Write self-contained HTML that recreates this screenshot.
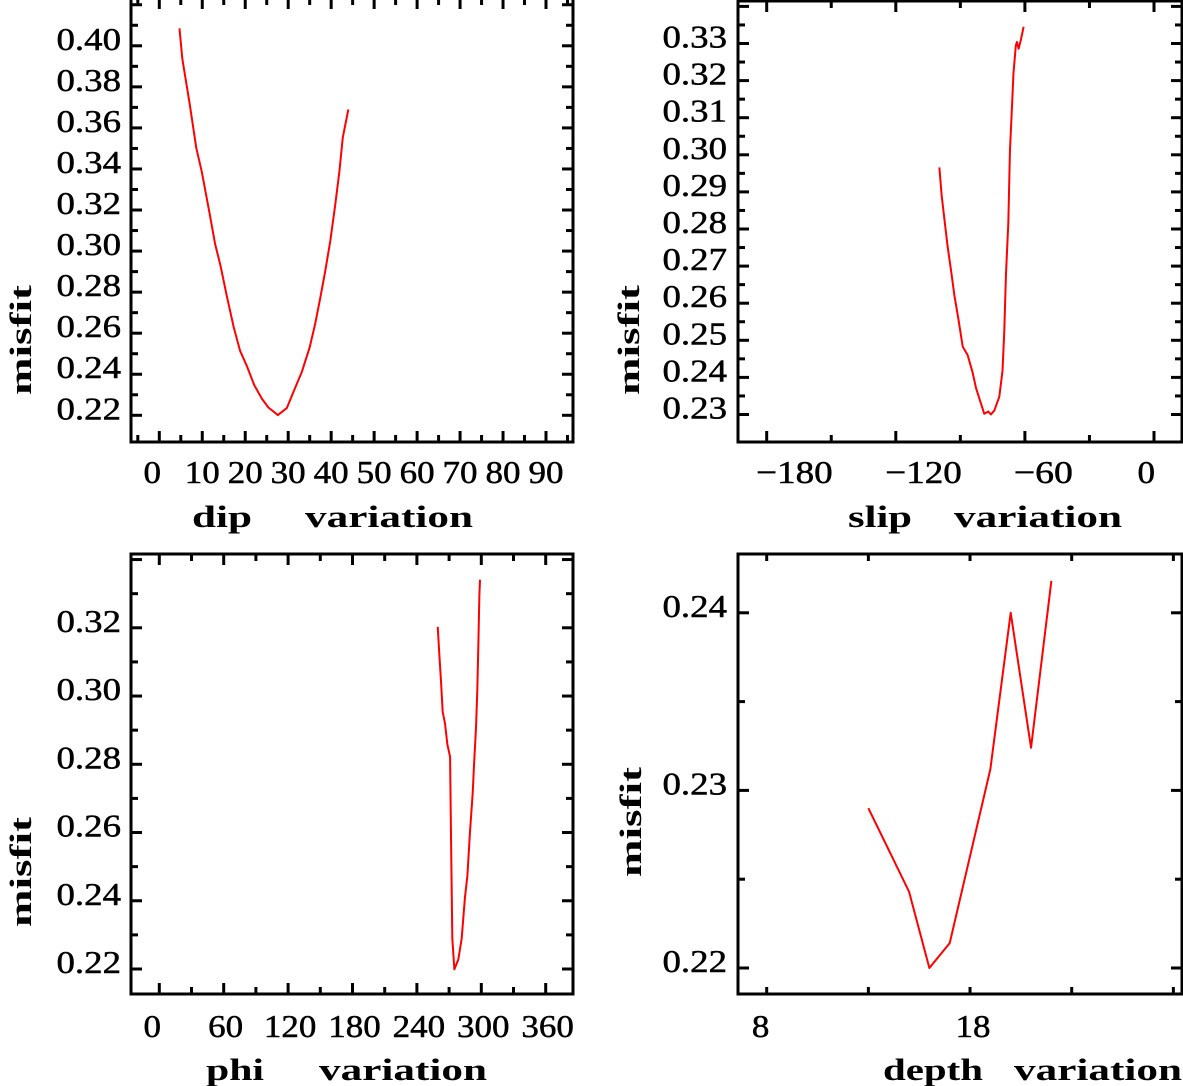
<!DOCTYPE html>
<html><head><meta charset="utf-8"><style>
html,body{margin:0;padding:0;background:#fff;}
svg{display:block;}
text{font-family:"Liberation Serif",serif;fill:#000;}
</style></head>
<body>
<svg id="chart" width="1183" height="1086" viewBox="0 0 1183 1086"></svg>
<script>
// ---- data ----
const dipX = [4.7,5.35,7.05,8.6,9.9,11.7,13.0,14.2,15.7,17.3,18.8,20.4,22.1,23.9,25.4,27.6,29.7,31.2,33.2,35.0,36.3,37.4,38.6,39.8,40.9,41.9,42.7,44.0];
const dipY = [0.4085,0.3938,0.372,0.3503,0.3385,0.3184,0.3033,0.2933,0.2782,0.2631,0.2514,0.2439,0.2347,0.2280,0.2238,0.2201,0.2236,0.2313,0.2413,0.2531,0.2648,0.2765,0.2900,0.3050,0.3218,0.3385,0.3553,0.3690];
const slipX = [-99.75,-98.7,-97.4,-95.9,-94.3,-92.8,-90.9,-88.9,-86.6,-84.3,-82.7,-80.4,-78.9,-77.0,-75.8,-74.2,-71.9,-70.4,-69.6,-68.8,-67.7,-66.95,-66.2,-65.3,-64.2,-63.7,-62.9,-61.9,-60.6];
const slipY = [0.2966,0.2891,0.2826,0.2752,0.2687,0.2622,0.2557,0.2483,0.2460,0.2413,0.2371,0.2329,0.2302,0.2308,0.2300,0.2311,0.2348,0.2418,0.2522,0.2678,0.2817,0.3012,0.3105,0.3221,0.3295,0.3304,0.3286,0.3309,0.3345];
const phiX = [259.4,260.9,262.5,264.0,266.2,268.4,270.9,271.8,273.0,274.9,278.6,281.7,284.8,287.0,289.5,292.0,293.2,295.1,296.3,297.2,298.2,298.8];
const phiY = [0.3203,0.3122,0.3041,0.2954,0.2919,0.2858,0.2822,0.2584,0.2289,0.2199,0.2228,0.2289,0.2411,0.2472,0.2604,0.2716,0.2797,0.2909,0.3020,0.3142,0.3295,0.3341];
const depthX = [13,15,16,17,19,20,21,22];
const depthY = [0.2290,0.2243,0.2200,0.2214,0.2312,0.2400,0.2324,0.2418];
// tick labels
const dipXLabels = [0,10,20,30,40,50,60,70,80,90];
const dipYLabels = ["0.40","0.38","0.36","0.34","0.32","0.30","0.28","0.26","0.24","0.22"];
const slipXLabels = [-180,-120,-60,0];
const slipYLabels = ["0.33","0.32","0.31","0.30","0.29","0.28","0.27","0.26","0.25","0.24","0.23"];
const phiXLabels = [0,60,120,180,240,300,360];
const phiYLabels = ["0.32","0.30","0.28","0.26","0.24","0.22"];
const depthXLabels = [8,18];
const depthYLabels = ["0.24","0.23","0.22"];

const NS="http://www.w3.org/2000/svg";
const svg=document.getElementById('chart');
function el(tag,attrs,parent){const e=document.createElementNS(NS,tag);for(const k in attrs)e.setAttribute(k,attrs[k]);(parent||svg).appendChild(e);return e;}
function linear(d0,d1,r0,r1){return v=>r0+(v-d0)*(r1-r0)/(d1-d0);}

const panels=[
 {name:'dip',box:[131,573,-2,442],xs:linear(0,90,159.3,546),ys:linear(0.40,0.22,45.8,415.3),
  xt:{start:-5,end:95,step:5,major:10},yt:{start:0.22,end:0.42,step:0.01,major:0.02},
  X:dipX,Y:dipY,xl:dipXLabels,yl:dipYLabels,xlab:v=>[ 'middle', v===0?-7:0],
  title:[['dip',222,60],['variation',389,168]],titleY:527,tickY:483,misfit:[21,340],labRight:121,top:false},
 {name:'slip',box:[738,1182,1,442],xs:linear(-180,0,766.7,1154),ys:linear(0.33,0.23,43.5,414.5),
  xt:{start:-180,end:0,step:30,major:60},yt:{start:0.23,end:0.34,step:0.005,major:0.01},
  X:slipX,Y:slipY,xl:slipXLabels,yl:slipYLabels,xlab:v=>['end', v===0?1:(v>-90?48:66)],
  title:[['slip',880,64],['variation',1038,168]],titleY:527,tickY:483,misfit:[629,340],labRight:727,top:true},
 {name:'phi',box:[131,573,554,994],xs:linear(0,360,159.3,545.7),ys:linear(0.32,0.22,627.8,969),
  xt:{start:0,end:360,step:30,major:60},yt:{start:0.22,end:0.34,step:0.01,major:0.02},
  X:phiX,Y:phiY,xl:phiXLabels,yl:phiYLabels,xlab:v=>['middle', v===0?-7:2],
  title:[['phi',235,58],['variation',403,168]],titleY:1080,tickY:1037,misfit:[21,872],labRight:121,top:true},
 {name:'depth',box:[738,1182,554,994],xs:linear(8,23,766.7,1071.7),ys:linear(0.24,0.22,612.8,968),
  xt:{start:8,end:28,step:5,major:10},yt:{start:0.22,end:0.2433,step:0.005,major:0.01},
  X:depthX,Y:depthY,xl:depthXLabels,yl:depthYLabels,xlab:v=>['middle', v===8?-6:3],
  title:[['depth',933,100],['variation',1098,168]],titleY:1080,tickY:1037,misfit:[631,822],labRight:727,top:true}
];

function near(a,b){return Math.abs(a-b)<1e-6;}
function tw(s){let w=0;for(const c of s){w+= c==='.'?12:(c==='\u2212'?24:17.5);}return w;}

panels.forEach(p=>{
  const g=el('g',{});
  
  
  const [L,R,T,B]=p.box;
  const frame=el('path',{d:`M${L} ${T} L${L} ${B} L${R} ${B} L${R} ${T} ${p.top?'Z':''}`,fill:'none',stroke:'#000','stroke-width':3},g);
  
  
  for(let v=p.xt.start;v<=p.xt.end+1e-9;v+=p.xt.step){
    const x=p.xs(v); if(x<=L+2||x>=R-2)continue;
    const mod=((v%p.xt.major)+p.xt.major)%p.xt.major;
    const m=near(mod,0)||near(mod,p.xt.major);
    const len=m?11:7;
    const t1=el('line',{x1:x,x2:x,y1:B,y2:B-len,stroke:'#000','stroke-width':3},g);
    
    
    const t2=el('line',{x1:x,x2:x,y1:T,y2:T+len,stroke:'#000','stroke-width':3},g);
    
    
  }
  for(let v=p.yt.start;v<=p.yt.end+1e-9;v+=p.yt.step){
    const y=p.ys(v); if(y<=T+2||y>=B-2)continue;
    const r=Math.round(v/p.yt.major*1000)/1000;
    const m=near(r,Math.round(r));
    const len=m?11:7;
    const t1=el('line',{x1:L,x2:L+len,y1:y,y2:y,stroke:'#000','stroke-width':3},g);
    
    
    const t2=el('line',{x1:R,x2:R-len,y1:y,y2:y,stroke:'#000','stroke-width':3},g);
    
    
  }
  p.xl.forEach(v=>{
    const s=v<0?'\u2212'+Math.abs(v):String(v);
    const [anc,off]=p.xlab(v);
    const t=el('text',{x:p.xs(v)+off,y:p.tickY,'font-size':32,'text-anchor':anc,textLength:tw(s),lengthAdjust:'spacingAndGlyphs',stroke:'#000','stroke-width':0.5},g);
    t.textContent=s;
    
    
  });
  p.yl.forEach(s=>{
    const t=el('text',{x:p.labRight,y:p.ys(parseFloat(s))+4,'font-size':32,'text-anchor':'end',textLength:tw(s),lengthAdjust:'spacingAndGlyphs',stroke:'#000','stroke-width':0.5},g);
    t.textContent=s;
    
    
  });
  p.title.forEach(([s,cx,w])=>{
    const t=el('text',{x:cx,y:p.titleY,'font-size':31,'font-weight':'bold','text-anchor':'middle',textLength:w,lengthAdjust:'spacingAndGlyphs'},g);
    t.textContent=s;
    
    
  });
  const mf=el('text',{x:0,y:0,'font-size':31,'font-weight':'bold','text-anchor':'middle',textLength:110,lengthAdjust:'spacingAndGlyphs',transform:`translate(${p.misfit[0]+10},${p.misfit[1]}) rotate(-90)`},g);
  mf.textContent='misfit';
  
  
  const d=p.X.map((x,i)=>(i?'L':'M')+p.xs(x).toFixed(2)+' '+p.ys(p.Y[i]).toFixed(2)).join(' ');
  const line=el('path',{d:d,fill:'none',stroke:'#ff0000','stroke-width':2,'stroke-linejoin':'round'},g);
  
  
});
</script>
</body></html>
